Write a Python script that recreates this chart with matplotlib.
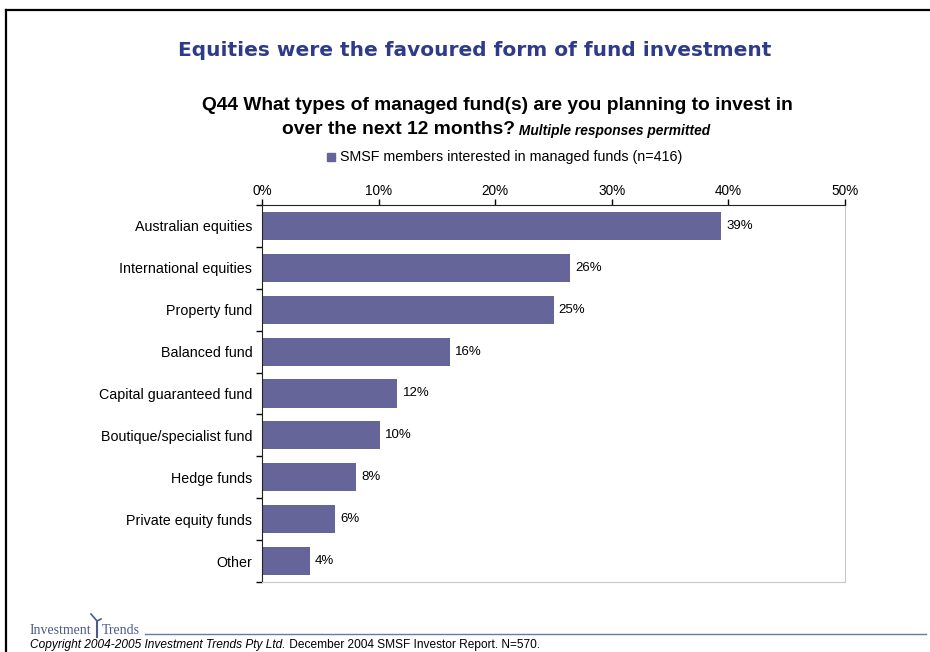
import matplotlib.pyplot as plt
from matplotlib.lines import Line2D

# datos del grafico
categorias = ["Australian equities", "International equities", "Property fund",
              "Balanced fund", "Capital guaranteed fund", "Boutique/specialist fund",
              "Hedge funds", "Private equity funds", "Other"]
valores = [39.4, 26.4, 25.0, 16.1, 11.6, 10.1, 8.1, 6.3, 4.1]
etiquetas = ["39%", "26%", "25%", "16%", "12%", "10%", "8%", "6%", "4%"]
ticks_x = [0, 10, 20, 30, 40, 50]

W, H = 930, 652
color_barra = "#65659A"
color_titulo = "#2E3B8C"

plt.rcParams['font.family'] = ['Liberation Sans', 'DejaVu Sans']

fig = plt.figure(figsize=(W / 100, H / 100), dpi=100)


def fx(x):
    return x / W


def fy(y):
    return 1 - y / H


# marco de la diapositiva
fig.add_artist(Line2D([fx(6), fx(930)], [fy(10), fy(10)], color="black", lw=1.6))
fig.add_artist(Line2D([fx(6), fx(6)], [fy(10), fy(652)], color="black", lw=1.6))

# titulo
fig.text(fx(475), fy(50), "Equities were the favoured form of fund investment",
         ha="center", va="center", fontsize=14.5, fontweight="bold",
         color=color_titulo, family="DejaVu Sans")

fig.text(fx(497), fy(105), "Q44 What types of managed fund(s) are you planning to invest in",
         ha="center", va="center", fontsize=13.8, fontweight="bold")

renderer = fig.canvas.get_renderer()
t1 = fig.text(0, fy(130), "over the next 12 months?", ha="left", va="center",
              fontsize=13.9, fontweight="bold")
t2 = fig.text(0, fy(131), " Multiple responses permitted", ha="left", va="center",
              fontsize=9.9, fontweight="bold", style="italic")
w1 = t1.get_window_extent(renderer).width
w2 = t2.get_window_extent(renderer).width
x0 = 496 - (w1 + w2) / 2
t1.set_x(fx(x0))
t2.set_x(fx(x0 + w1))

# leyenda
fig.add_artist(plt.Rectangle((fx(327), fy(161)), fx(8), 8 / H, color=color_barra,
                             transform=fig.transFigure))
fig.text(fx(340), fy(157), "SMSF members interested in managed funds (n=416)",
         ha="left", va="center", fontsize=10.3)

# area del grafico
ax = fig.add_axes([fx(262), fy(582), fx(845 - 262), (582 - 205) / H])
pos = list(range(len(categorias)))
ax.barh(pos, valores, height=0.67, color=color_barra)
for p, v, e in zip(pos, valores, etiquetas):
    ax.text(v + 0.45, p, e, ha="left", va="center", fontsize=9.5)

ax.set_xlim(0, 50)
ax.set_ylim(len(categorias) - 0.5, -0.5)
ax.xaxis.tick_top()
ax.set_xticks(ticks_x)
ax.set_xticklabels([f"{t}%" for t in ticks_x], fontsize=9.8)
ax.set_yticks(pos)
ax.set_yticklabels(categorias, fontsize=10.3)
ax.set_yticks([p + 0.5 for p in range(-1, len(categorias))], minor=True)
ax.tick_params(axis="y", which="major", length=0, pad=7)
ax.tick_params(axis="y", which="minor", length=4, width=1)
ax.tick_params(axis="x", length=4, width=1, pad=1)
ax.spines["right"].set_color("#c8c8c8")
ax.spines["bottom"].set_color("#c8c8c8")
ax.spines["left"].set_color("#222222")
ax.spines["top"].set_color("#222222")

# pie de pagina
color_logo = "#4B5B8F"
fig.text(fx(30), fy(630), "Investment", ha="left", va="center", fontsize=10,
         family="Liberation Serif", color=color_logo)
fig.text(fx(102), fy(630), "Trends", ha="left", va="center", fontsize=10,
         family="Liberation Serif", color=color_logo)
fig.add_artist(Line2D([fx(97), fx(97)], [fy(637), fy(621)], color=color_logo, lw=1.5))
fig.add_artist(Line2D([fx(97), fx(91)], [fy(621), fy(614)], color=color_logo, lw=1.2))
fig.add_artist(Line2D([fx(97), fx(101)], [fy(621), fy(619)], color=color_logo, lw=1.2))
fig.add_artist(Line2D([fx(145), fx(926)], [fy(634), fy(634)], color="#6A78A8", lw=1))

c1 = fig.text(fx(30), fy(645), "Copyright 2004-2005 Investment Trends Pty Ltd.",
              ha="left", va="center", fontsize=8.6, style="italic")
wc = c1.get_window_extent(renderer).width
fig.text(fx(30 + wc), fy(645), " December 2004 SMSF Investor Report. N=570.",
         ha="left", va="center", fontsize=8.6)

fig.savefig("out.png", dpi=100)
